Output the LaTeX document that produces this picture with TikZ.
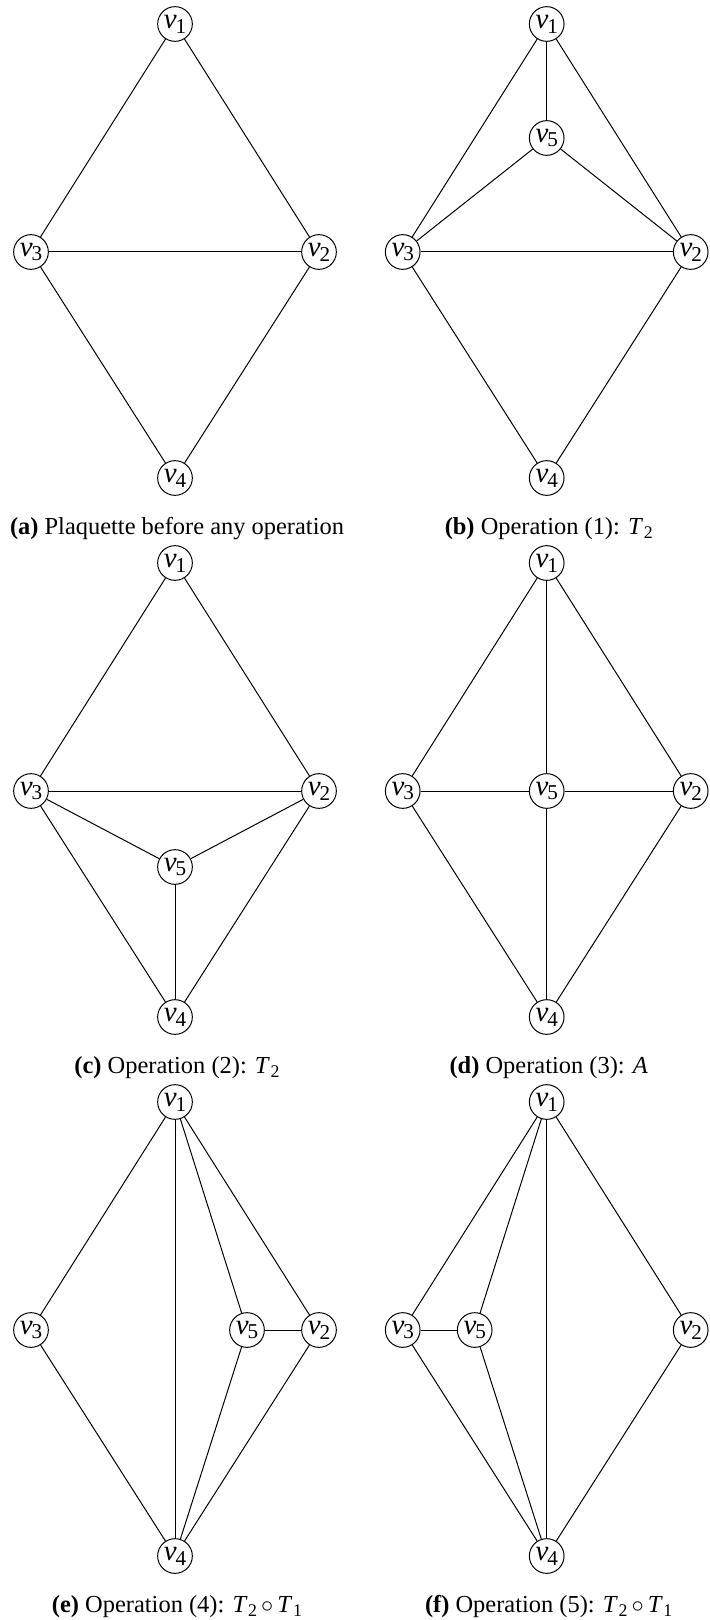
\documentclass[tikz,border=0pt]{standalone}
\usepackage{fontspec}
\setmainfont{Liberation Serif}
\usetikzlibrary{positioning}
\tikzset{
  vertex/.style={circle,draw,line width=0.45pt,minimum size=15.6pt,inner sep=0pt,font=\fontsize{13}{14}\selectfont},
  edge/.style={line width=0.45pt},
  subcap/.style={anchor=base,font=\fontsize{11}{13}\selectfont}
}
\newcommand{\vl}[1]{\textit{v}\kern-0.5pt\raisebox{-2.2pt}{\fontsize{9.5}{10}\selectfont#1}}
\newcommand{\tl}[1]{\textit{T}\kern0.3pt\raisebox{-1.8pt}{\fontsize{8}{9}\selectfont#1}}

\begin{document}
\begin{tikzpicture}[x=0.45pt,y=-0.45pt]
\path[use as bounding box] (0,0) rectangle (710,1620);
% (a) before any operation
\foreach \i/\x/\y in {1/175/24,2/319/252,3/31/252,4/175/478}
  \node[vertex] (a\i) at (\x,\y) {\vl{\i}};
\foreach \s/\t in {1/3,1/2,3/2,3/4,2/4}
  \draw[edge] (a\s) -- (a\t);
\node[subcap] (capa) at (177,534) {\textbf{(a)} Plaquette before any operation};
% (b) operation 1
\begin{scope}[shift={(371.7,0)}]
\foreach \i/\x/\y in {1/175/24,2/319/252,3/31/252,4/175/478,5/175/138}
  \node[vertex] (b\i) at (\x,\y) {\vl{\i}};
\foreach \s/\t in {1/3,1/2,1/5,5/3,5/2,3/2,3/4,2/4}
  \draw[edge] (b\s) -- (b\t);
\node[subcap] (capb) at (177,534) {\textbf{(b)} Operation (1): \tl{2}};
\end{scope}
% (c) operation 2
\begin{scope}[shift={(0,539)}]
\foreach \i/\x/\y in {1/175/24,2/319/252,3/31/252,4/175/478,5/175/328}
  \node[vertex] (c\i) at (\x,\y) {\vl{\i}};
\foreach \s/\t in {1/3,1/2,3/2,3/5,2/5,5/4,3/4,2/4}
  \draw[edge] (c\s) -- (c\t);
\node[subcap] (capc) at (177,534) {\textbf{(c)} Operation (2): \tl{2}};
\end{scope}
% (d) operation 3
\begin{scope}[shift={(371.7,539)}]
\foreach \i/\x/\y in {1/175/24,2/319/252,3/31/252,4/175/478,5/175/252}
  \node[vertex] (d\i) at (\x,\y) {\vl{\i}};
\foreach \s/\t in {1/3,1/2,1/5,3/5,5/2,5/4,3/4,2/4}
  \draw[edge] (d\s) -- (d\t);
\node[subcap] (capd) at (177,534) {\textbf{(d)} Operation (3): \textit{A}};
\end{scope}
% (e) operation 4
\begin{scope}[shift={(0,1078)}]
\foreach \i/\x/\y in {1/175/24,2/319/252,3/31/252,4/175/478,5/247/252}
  \node[vertex] (e\i) at (\x,\y) {\vl{\i}};
\foreach \s/\t in {1/3,1/4,1/5,1/2,5/2,5/4,3/4,2/4}
  \draw[edge] (e\s) -- (e\t);
\node[subcap] (cape) at (177,534) {\textbf{(e)} Operation (4): \tl{2}\,$\circ$\,\tl{1}};
\end{scope}
% (f) operation 5
\begin{scope}[shift={(371.7,1078)}]
\foreach \i/\x/\y in {1/175/24,2/319/252,3/31/252,4/175/478,5/103/252}
  \node[vertex] (f\i) at (\x,\y) {\vl{\i}};
\foreach \s/\t in {1/3,1/5,1/4,1/2,3/5,5/4,3/4,2/4}
  \draw[edge] (f\s) -- (f\t);
\node[subcap] (capf) at (177,534) {\textbf{(f)} Operation (5): \tl{2}\,$\circ$\,\tl{1}};
\end{scope}
\end{tikzpicture}
\end{document}
